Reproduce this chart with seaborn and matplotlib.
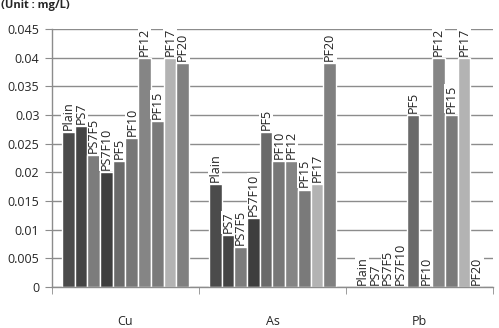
import pandas as pd
import matplotlib
matplotlib.use("Agg")
import matplotlib.pyplot as plt
import seaborn as sns

metals = ["Cu", "As", "Pb"]
samples = ["Plain", "PS7", "PS7F5", "PS7F10", "PF5", "PF10", "PF12", "PF15", "PF17", "PF20"]
cu = [0.027, 0.028, 0.023, 0.020, 0.022, 0.026, 0.040, 0.029, 0.040, 0.039]
as_ = [0.018, 0.009, 0.007, 0.012, 0.027, 0.022, 0.022, 0.017, 0.018, 0.039]
pb = [0, 0, 0, 0, 0.030, 0, 0.040, 0.030, 0.040, 0]
yticks = [0, 0.005, 0.01, 0.015, 0.02, 0.025, 0.03, 0.035, 0.04, 0.045]
ytick_labels = ["0", "0.005", "0.01", "0.015", "0.02", "0.025", "0.03", "0.035", "0.04", "0.045"]

colors = ["#4b4b4b", "#444444", "#7c7c7c", "#3e3e3e", "#6a6a6a",
          "#777777", "#858585", "#7a7a7a", "#b3b3b3", "#808080"]

rows = []
for m, vals in zip(metals, [cu, as_, pb]):
    for s, v in zip(samples, vals):
        rows.append({"metal": m, "sample": s, "value": v})
df = pd.DataFrame(rows)

sns.set_style("white")
plt.rcParams["font.family"] = ["Open Sans", "DejaVu Sans"]

fig = plt.figure(figsize=(4.99, 3.28), dpi=100)
ax = fig.add_axes([0.104, 0.125, 0.884, 0.7866])

sns.barplot(data=df, x="metal", y="value", hue="sample", order=metals,
            hue_order=samples, palette=colors, width=0.865, saturation=1,
            errorbar=None, legend=False, ax=ax)

for cont, name in zip(ax.containers, samples):
    ax.bar_label(cont, labels=[name] * len(cont), rotation=90, padding=1.5,
                 fontsize=9, color="#222222",
                 bbox=dict(facecolor="white", edgecolor="none", pad=0.3))

ax.set_ylim(0, 0.045)
ax.set_xlim(-0.5, 2.5)
ax.set_yticks(yticks)
ax.set_yticklabels(ytick_labels)
ax.yaxis.grid(True, color="#8c8c8c", linewidth=1)
ax.set_axisbelow(True)
ax.set_xlabel("")
ax.set_ylabel("")

for side in ["top", "right"]:
    ax.spines[side].set_visible(False)
for side in ["left", "bottom"]:
    ax.spines[side].set_color("#8c8c8c")
    ax.spines[side].set_linewidth(1)

ax.tick_params(axis="y", length=5, color="#8c8c8c", labelsize=9, pad=4, left=True)
ax.tick_params(axis="x", which="major", length=0, labelsize=9, pad=20)
ax.set_xticks([-0.5, 0.5, 1.5, 2.5], minor=True)
ax.tick_params(axis="x", which="minor", length=5, color="#8c8c8c", bottom=True)

fig.text(0.002, 0.982, "(Unit : mg/L)", fontsize=8, fontweight="bold", va="center", ha="left")

fig.savefig("out.png", dpi=100)
